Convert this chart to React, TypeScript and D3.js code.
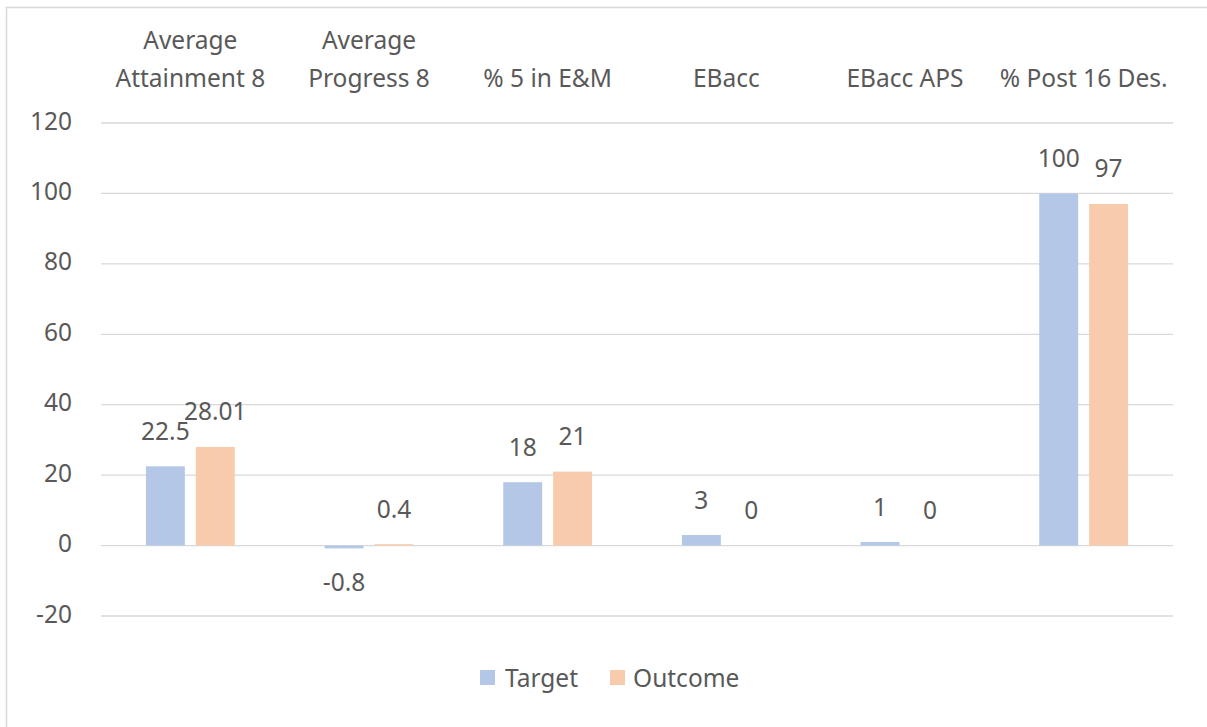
import React from 'react';
import * as d3 from 'd3';

const categories = [
  'Average\nAttainment 8',
  'Average\nProgress 8',
  '% 5 in E&M',
  'EBacc',
  'EBacc APS',
  '% Post 16 Des.',
];
const seriesNames = ['Target', 'Outcome'];
const targetValues = [22.5, -0.8, 18, 3, 1, 100];
const outcomeValues = [28.01, 0.4, 21, 0, 0, 97];
const yTicks = [-20, 0, 20, 40, 60, 80, 100, 120];

const colors = {Target: '#b4c7e7', Outcome: '#f8cbad'};
const textColor = '#595959';
const font = '"Noto Sans", "Open Sans", sans-serif';
const fs = 24.5;

const App = () => {
  const width = 1207;
  const height = 727;
  const left = 101;
  const right = 1173;

  const x0 = d3.scaleBand().domain(categories).range([left, right]).padding(0);
  const x1 = d3.scaleBand()
    .domain(seriesNames)
    .range([0, x0.bandwidth()])
    .paddingInner(0.22)
    .paddingOuter(0.9);
  const y = d3.scaleLinear().domain([-20, 120]).range([616, 123]);

  const rows = categories.map((c, i) => ({
    cat: c,
    values: [
      {name: 'Target', value: targetValues[i]},
      {name: 'Outcome', value: outcomeValues[i]},
    ],
  }));

  return (
    <svg width={width} height={height} style={{position: 'absolute', left: 0, top: 0}}
         fontFamily={font}>
      <rect x={0} y={0} width={width} height={height} fill="#fff" />
      <path d={`M6.5,${height} V7.5 H${width}`} fill="none" stroke="#d9d9d9" strokeWidth={1.5} />

      {/* grid + y ticks */}
      {yTicks.map(t => (
        <g key={t}>
          <line x1={left} x2={right} y1={y(t)} y2={y(t)} stroke="#d9d9d9" strokeWidth={1.3} />
          <text x={72} y={y(t) - 3} textAnchor="end" dominantBaseline="central"
                fontSize={fs} fill={textColor}>{t}</text>
        </g>
      ))}

      {/* category labels on top */}
      {categories.map(c => {
        const lines = c.split('\n');
        const cx = x0(c) + x0.bandwidth() / 2;
        return (
          <text key={c} textAnchor="middle" fontSize={fs} fill={textColor}>
            {lines.map((l, j) => (
              <tspan key={j} x={cx} y={87 - (lines.length - 1 - j) * 38}>{l}</tspan>
            ))}
          </text>
        );
      })}

      {/* bars */}
      {rows.map(r => (
        <g key={r.cat} transform={`translate(${x0(r.cat)},0)`}>
          {r.values.map(v => (
            <g key={v.name}>
              <rect x={x1(v.name)} width={x1.bandwidth()}
                    y={Math.min(y(v.value), y(0))}
                    height={Math.abs(y(v.value) - y(0))}
                    fill={colors[v.name]} />
              <text x={x1(v.name) + x1.bandwidth() / 2}
                    y={v.value < 0 ? y(v.value) + 33 : y(v.value) - 36}
                    textAnchor="middle" dominantBaseline="central"
                    fontSize={fs} fill={textColor}>{v.value}</text>
            </g>
          ))}
        </g>
      ))}

      {/* legend */}
      <rect x={480} y={670} width={15} height={15} fill={colors.Target} />
      <text x={505} y={677} dominantBaseline="central" fontSize={fs} fill={textColor}>Target</text>
      <rect x={610} y={670} width={15} height={15} fill={colors.Outcome} />
      <text x={633} y={677} dominantBaseline="central" fontSize={fs} fill={textColor}>Outcome</text>
    </svg>
  );
};

export default App;
